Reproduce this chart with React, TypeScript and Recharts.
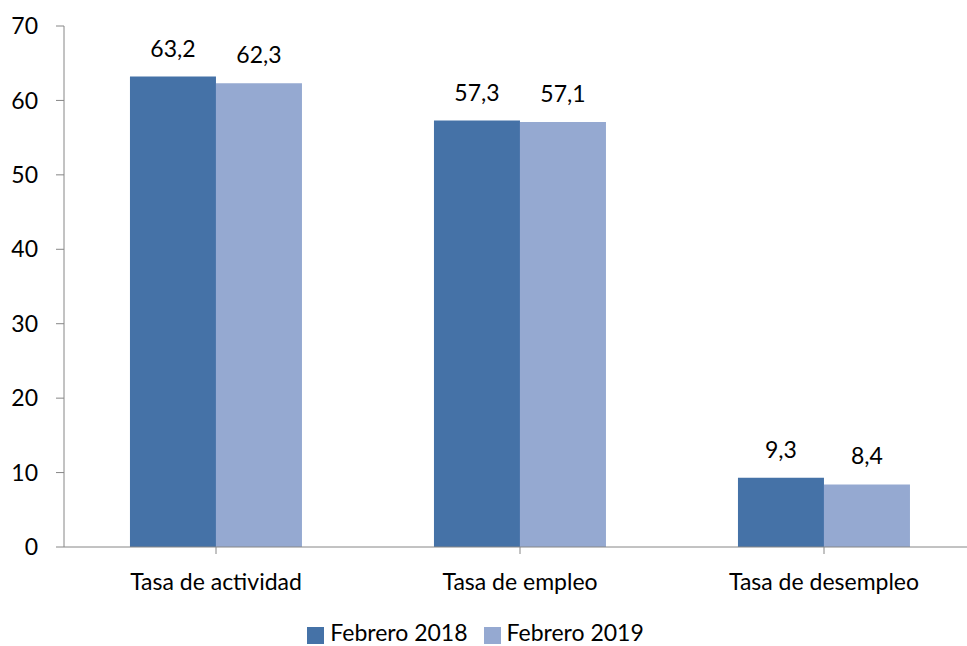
import React from 'react';
import { BarChart, Bar, XAxis, YAxis, Legend, LabelList } from 'recharts';

const categories = ['Tasa de actividad', 'Tasa de empleo', 'Tasa de desempleo'];
const feb2018 = [63.2, 57.3, 9.3];
const feb2019 = [62.3, 57.1, 8.4];
const yTicks = [0, 10, 20, 30, 40, 50, 60, 70];

const data = categories.map((name, i) => ({
  name,
  feb2018: feb2018[i],
  feb2019: feb2019[i],
}));

const FONT = 'Lato, "Open Sans", sans-serif';
const AXIS = '#868686';
const FS = 23;

const fmt = (v: any) => String(v).replace('.', ',');

export default function App() {
  return (
    <div style={{ position: 'fixed', top: 0, left: 0, width: 967, height: 646, overflow: 'hidden', background: '#fff', fontFamily: FONT }}>
      <BarChart
        width={990}
        height={646}
        data={data}
        margin={{ top: 26, right: 14, bottom: 25, left: 0 }}
        barCategoryGap="21.7%"
        barGap={0}
      >
        <XAxis
          dataKey="name"
          axisLine={{ stroke: AXIS }}
          tickLine={{ stroke: AXIS }}
          tickSize={7}
          tickMargin={20}
          height={50}
          tick={{ fill: '#000', fontSize: FS, fontFamily: FONT }}
        />
        <YAxis
          width={64}
          domain={[0, 70]}
          ticks={yTicks}
          axisLine={{ stroke: AXIS }}
          tickLine={{ stroke: AXIS }}
          tickSize={8}
          tickMargin={18}
          tick={{ fill: '#000', fontSize: FS, fontFamily: FONT }}
        />
        <Legend
          verticalAlign="bottom"
          iconType="square"
          iconSize={17}
          wrapperStyle={{ top: 620, left: 0, width: 967, fontSize: FS, lineHeight: '24px', color: '#000' }}
          formatter={(v) => <span style={{ color: '#000', marginLeft: 2, paddingRight: 6 }}>{v}</span>}
        />
        <Bar dataKey="feb2018" name="Febrero 2018" fill="#4572A7" isAnimationActive={false}>
          <LabelList dataKey="feb2018" position="top" offset={20} formatter={fmt} fill="#000" fontSize={FS} fontFamily={FONT} />
        </Bar>
        <Bar dataKey="feb2019" name="Febrero 2019" fill="#95A9D1" isAnimationActive={false}>
          <LabelList dataKey="feb2019" position="top" offset={20} formatter={fmt} fill="#000" fontSize={FS} fontFamily={FONT} />
        </Bar>
      </BarChart>
    </div>
  );
}
